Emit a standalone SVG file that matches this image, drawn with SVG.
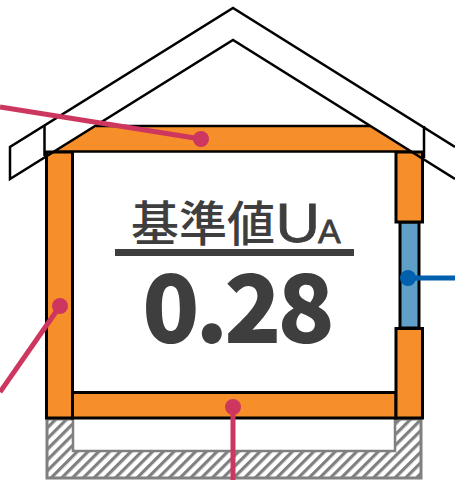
<svg xmlns="http://www.w3.org/2000/svg" width="455" height="480" viewBox="0 0 455 480">
<style>
.o{fill:#f68f2a;stroke:#000;stroke-width:3}
.r{fill:none;stroke:#000;stroke-width:2.500}
.t{fill:#3e3e3e;font-family:"Noto Sans CJK JP","Noto Sans",sans-serif}
.l{fill:#3e3e3e;stroke:#3e3e3e;stroke-width:.8;font-family:"Liberation Sans",sans-serif}
.p{stroke:#cd365f;stroke-width:5;fill:none}
.b{stroke:#0060ad;stroke-width:5;fill:none}
</style>
<defs>
<pattern id="h" width="7.600" height="7.600" patternUnits="userSpaceOnUse" patternTransform="rotate(45)">
<rect width="7.600" height="7.600" fill="#fff"/><rect width="3.200" height="7.600" fill="#808080"/>
</pattern>
</defs>
<rect width="455" height="480" fill="#fff"/>
<g id="foundation">
<path d="M47 419H421V478H47Z" fill="url(#h)" stroke="#808080" stroke-width="3"/>
<path d="M73 417H395V451H73Z" fill="#fff" stroke="#808080" stroke-width="2.500"/>
</g>
<g id="left-wall"><rect class="o" x="46.500" y="152" width="26" height="266"/></g>
<g id="floor"><rect class="o" x="72.500" y="392.500" width="323.500" height="25.500"/></g>
<g id="window"><rect x="400" y="222" width="19" height="106" fill="#60a0c8" stroke="#000" stroke-width="3"/></g>
<g id="right-wall-top"><rect class="o" x="396" y="152" width="26.500" height="70"/></g>
<g id="right-wall-bottom"><rect class="o" x="396" y="328.500" width="26.500" height="89.500"/></g>
<g id="ceiling"><path d="M96 126H370L411 151.500H55Z" fill="#f68f2a"/><path d="M96 126H370M55 151.500H411" fill="none" stroke="#000" stroke-width="2.500"/></g>
<g id="roof">
<path class="r" d="M455 147L233 8L10 147V179L233 40L455 179"/>
<path class="r" d="M44.500 126V156M424 126V158"/>
</g>
<g id="label">
<text class="t" x="131" y="241" font-size="48" font-weight="500">基準値</text>
<text class="l" x="0" y="0" font-size="56" transform="translate(275.500 242) scale(1.100 1)">U</text>
<text class="l" x="318" y="243" font-size="34">A</text>
<rect x="115" y="249" width="239" height="7" fill="#3e3e3e"/>
<text class="t" x="236.500" y="343" font-size="94" font-weight="900" letter-spacing="-4" text-anchor="middle">0.28</text>
</g>
<g id="connectors">
<path class="p" d="M0 107L201 139"/><circle cx="201" cy="139" r="8" fill="#cd365f"/>
<path class="p" d="M60 306L0 392"/><circle cx="60" cy="306" r="8" fill="#cd365f"/>
<path class="p" d="M233 407V480"/><circle cx="233" cy="407" r="8" fill="#cd365f"/>
<path class="b" d="M408 278H455"/><circle cx="408" cy="278" r="8" fill="#0060ad"/>
</g>
</svg>
